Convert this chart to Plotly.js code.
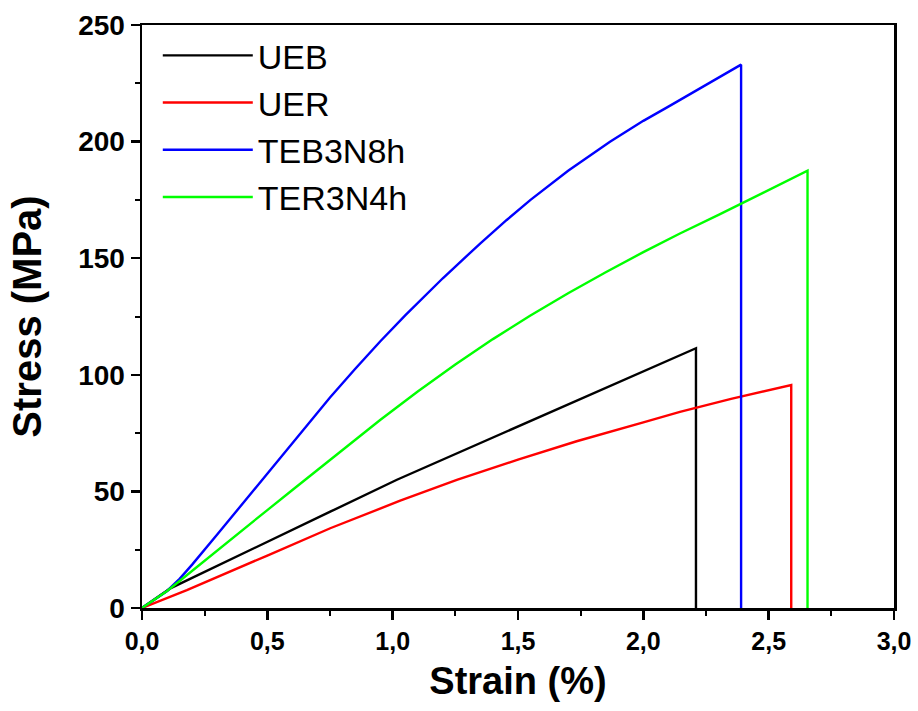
<!DOCTYPE html>
<html>
<head>
<meta charset="utf-8">
<script src="https://cdn.plot.ly/plotly-3.0.1.min.js"></script>
<style>html,body{margin:0;padding:0;background:#fff;}#chart{width:918px;height:711px;}</style>
</head>
<body>
<div id="chart"></div>
<script>
// Series names
var seriesNames = ["UEB", "UER", "TEB3N8h", "TER3N4h"];
var seriesColors = ["#000000", "#ff0000", "#0000ff", "#00ff00"];

// UEB (black)
var uebStrain = [0, 0.05, 0.113, 0.2, 0.3, 0.5, 0.751, 1.017, 1.376, 1.75, 2.146, 2.21, 2.21];
var uebStress = [0, 3.7, 8.4, 12.9, 18.1, 28.4, 41.3, 55, 72, 89.6, 108.4, 111.4, 0];

// UER (red)
var uerStrain = [0, 0.179, 0.5, 0.751, 1.03, 1.256, 1.5, 1.734, 2.0, 2.146, 2.35, 2.59, 2.59];
var uerStress = [0, 7.7, 22.5, 34.2, 46, 54.9, 63.6, 71.5, 79.6, 84.1, 89.7, 95.6, 0];

// TEB3N8h (blue)
var tebStrain = [0, 0.05, 0.1, 0.15, 0.2, 0.3, 0.4, 0.5, 0.6, 0.7, 0.75, 0.85, 0.95, 1.05, 1.2, 1.35, 1.455, 1.55, 1.7, 1.867, 2.0, 2.1, 2.186, 2.3, 2.39, 2.39];
var tebStress = [0, 3.5, 7.3, 12.5, 18.6, 31.5, 44.5, 57.5, 70.5, 83.5, 90.3, 102.5, 114.3, 125.5, 141.4, 156.4, 166.4, 175, 187.5, 199.9, 208.9, 215, 220.4, 227.2, 233, 0];

// TER3N4h (green)
var terStrain = [0, 0.05, 0.1, 0.15, 0.2, 0.3, 0.4, 0.5, 0.6, 0.75, 0.85, 0.95, 1.1, 1.25, 1.4, 1.548, 1.7, 1.85, 2.0, 2.146, 2.3, 2.386, 2.45, 2.55, 2.655, 2.655];
var terStress = [0, 3.5, 7.3, 11.6, 16, 24.6, 33.3, 42, 50.6, 63.6, 72.2, 80.6, 92.8, 104.4, 115.3, 125.3, 135, 144, 152.6, 160.6, 168.6, 173.2, 176.5, 181.8, 187.5, 0];

var xs = [uebStrain, uerStrain, tebStrain, terStrain];
var ys = [uebStress, uerStress, tebStress, terStress];

var data = seriesNames.map(function (n, i) {
  return {
    x: xs[i], y: ys[i], name: n, type: "scatter", mode: "lines",
    line: {color: seriesColors[i], width: 2.4}
  };
});

var fam = "Liberation Sans, Arial, sans-serif";

var layout = {
  width: 918, height: 711,
  paper_bgcolor: "#fff", plot_bgcolor: "#fff",
  separators: ",.",
  margin: {l: 142, r: 24, t: 25, b: 103},
  showlegend: true,
  legend: {
    x: 0.021, y: 0.997, xanchor: "left", yanchor: "top",
    bgcolor: "rgba(0,0,0,0)", borderwidth: 0,
    font: {family: fam, size: 34, color: "#000"},
    itemwidth: 90, tracegroupgap: 0
  },
  xaxis: {
    range: [0, 3.0], tickvals: [0, 0.5, 1.0, 1.5, 2.0, 2.5, 3.0], tickformat: ".1f",
    showgrid: false, zeroline: false,
    showline: true, linecolor: "#000", linewidth: 2.5, mirror: true,
    ticks: "outside", ticklen: 9, tickwidth: 2.5, tickcolor: "#000",
    minor: {dtick: 0.25, ticks: "outside", ticklen: 5, tickwidth: 2, tickcolor: "#000"},
    tickfont: {family: fam, size: 25, color: "#000", weight: "bold"},
    title: {text: "Strain (%)", font: {family: fam, size: 38, color: "#000", weight: "bold"}, standoff: 14}
  },
  yaxis: {
    range: [0, 250], tickvals: [0, 50, 100, 150, 200, 250],
    showgrid: false, zeroline: false,
    showline: true, linecolor: "#000", linewidth: 2.5, mirror: true,
    ticks: "outside", ticklen: 9, tickwidth: 2.5, tickcolor: "#000",
    minor: {dtick: 25, ticks: "outside", ticklen: 5, tickwidth: 2, tickcolor: "#000"},
    tickfont: {family: fam, size: 28, color: "#000", weight: "bold"},
    title: {text: "Stress (MPa)", font: {family: fam, size: 40, color: "#000", weight: "bold"}, standoff: 24}
  }
};

Plotly.newPlot("chart", data, layout, {displayModeBar: false, staticPlot: true});
</script>
</body>
</html>
